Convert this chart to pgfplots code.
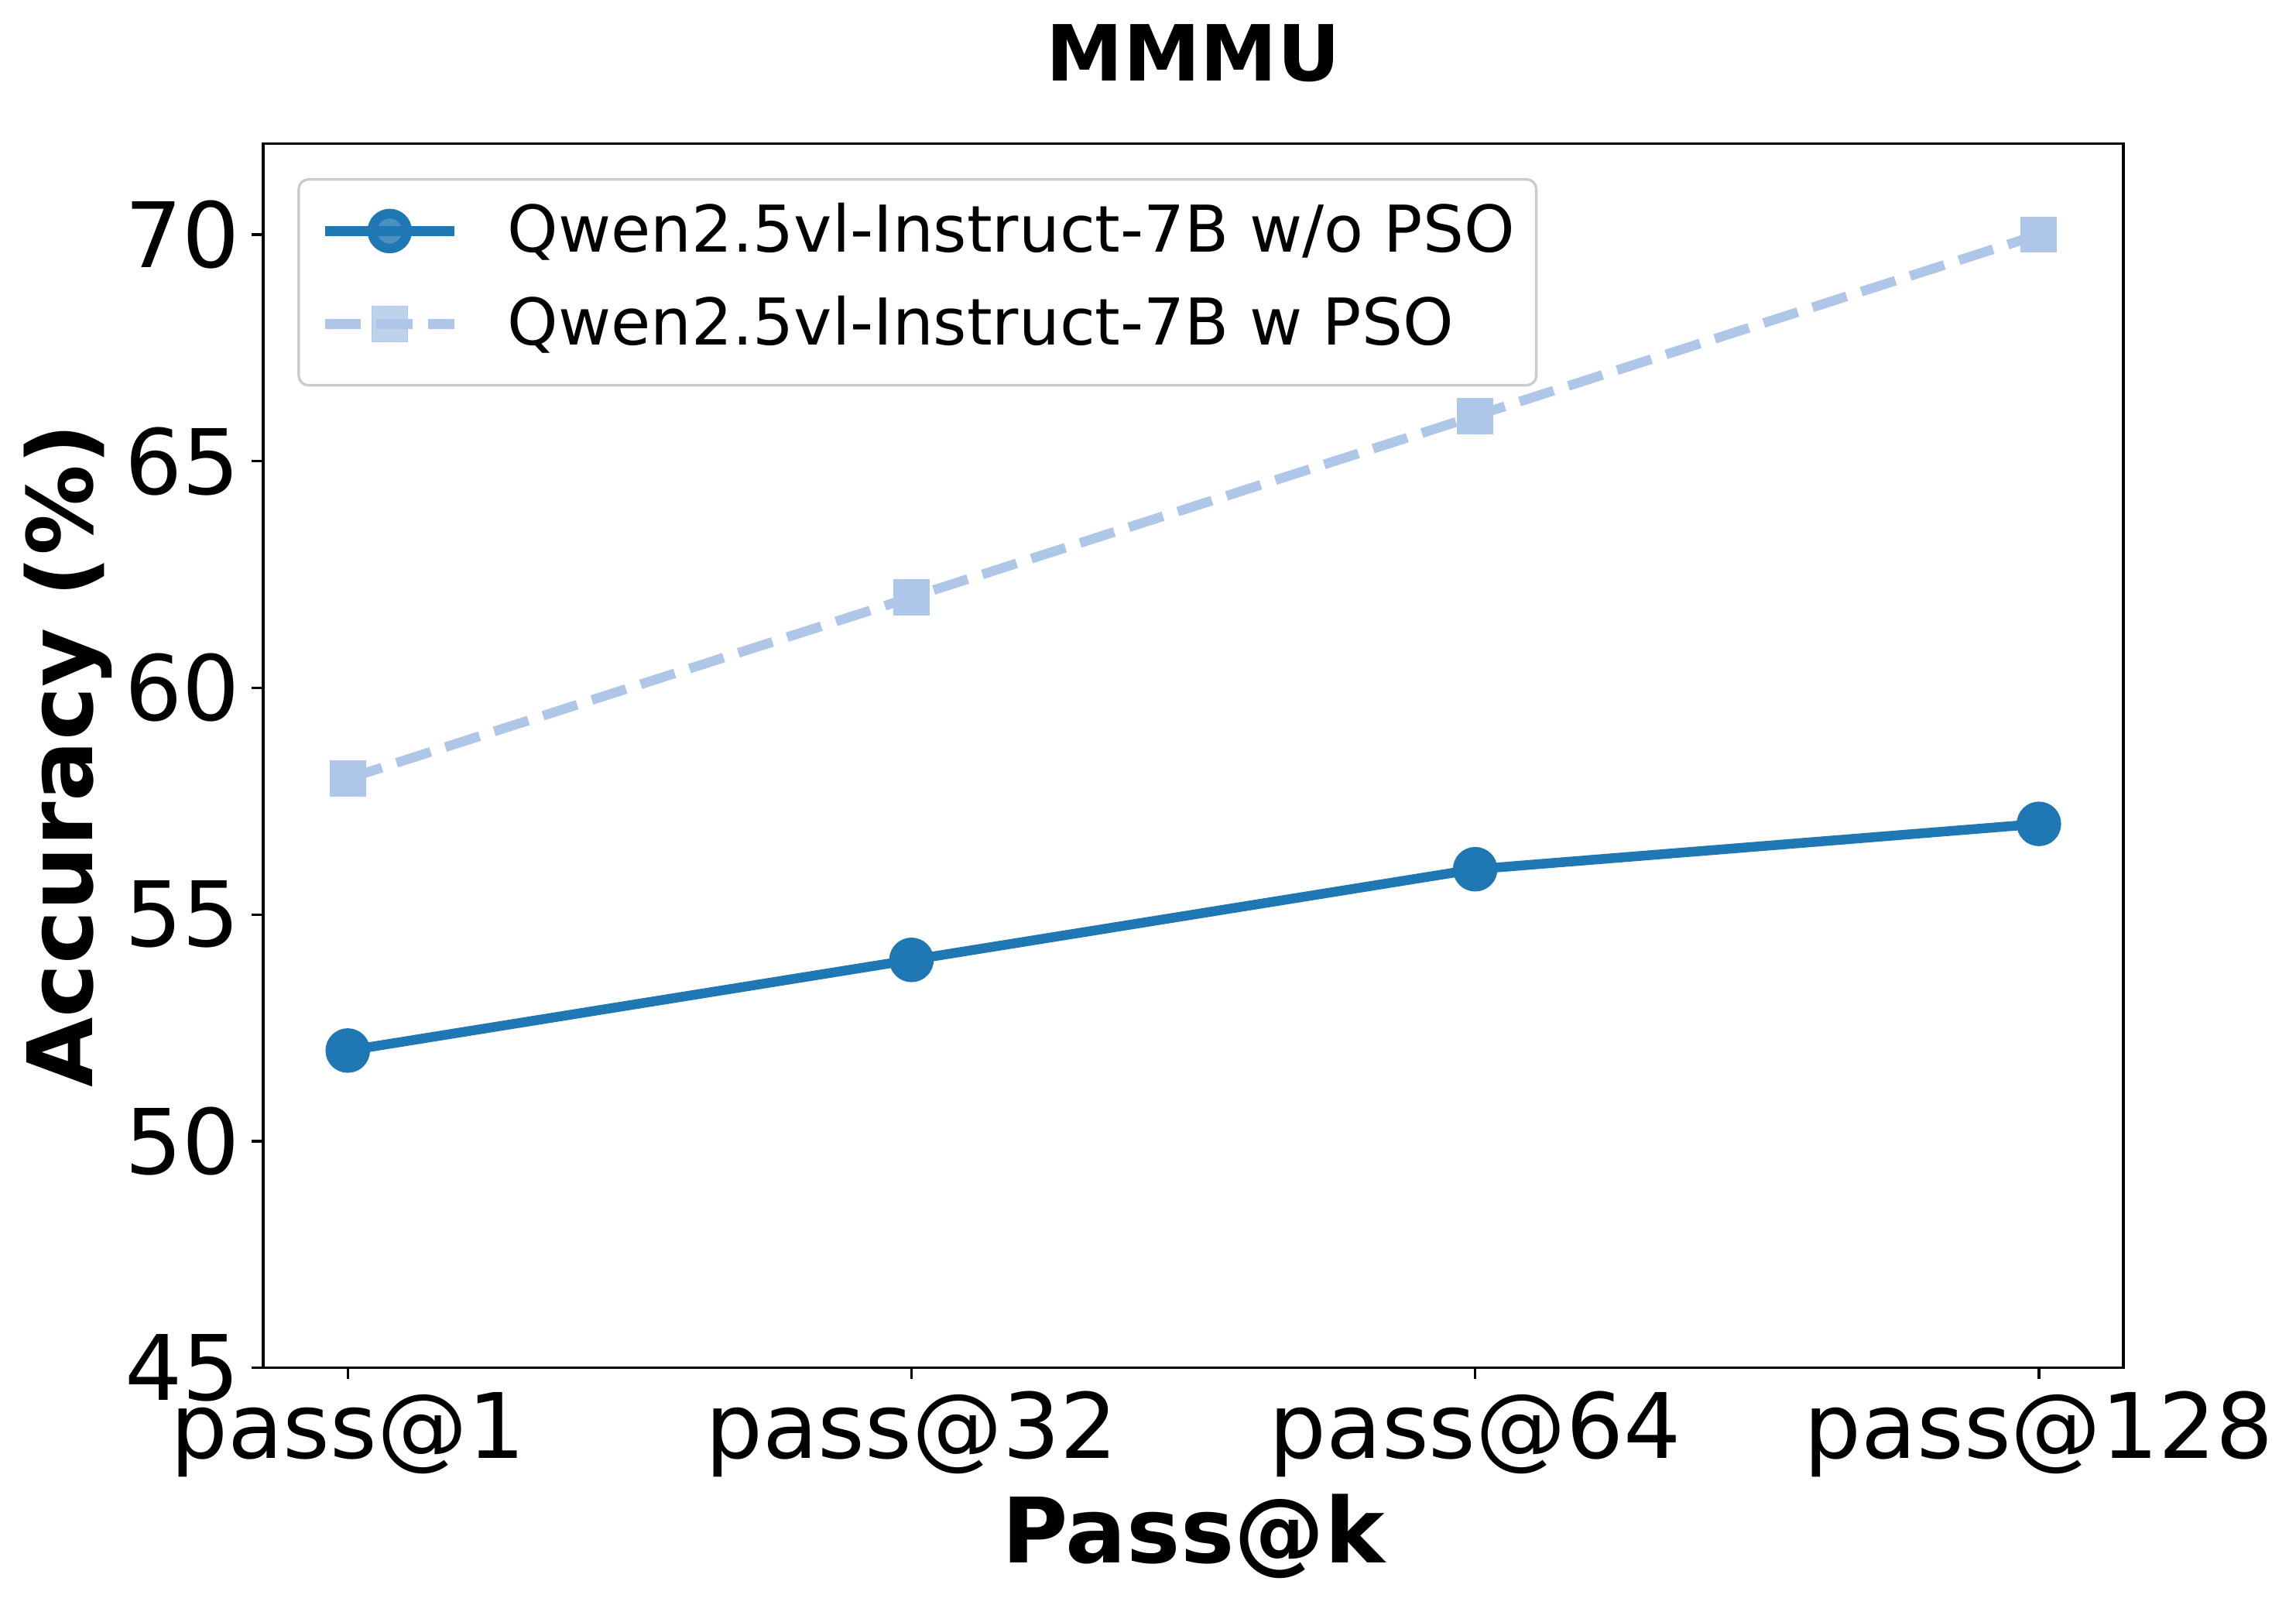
\documentclass[border=0pt]{standalone}
\usepackage{pgfplots}
\pgfplotsset{compat=1.18}
\usepackage{fontspec}
\setmainfont{DejaVu Sans}
\definecolor{cA}{HTML}{1F77B4}
\definecolor{cB}{HTML}{AEC7E8}
\begin{document}
\begin{tikzpicture}
\begin{axis}[
  name=ax,
  width=576.7pt, height=379.4pt, scale only axis,
  xmin=-0.15, xmax=3.15, ymin=45, ymax=72,
  xtick={0,1,2,3},
  xticklabels={pass@1,pass@32,pass@64,pass@128},
  ytick={45,50,...,70},
  xtick pos=bottom, ytick pos=left,
  tick align=outside, major tick length=3.5pt,
  tick style={black, line width=0.8pt},
  axis line style={line width=0.8pt},
  /pgf/number format/assume math mode=true,
  tick label style={font=\fontsize{28}{34}\selectfont},
  xticklabel style={inner sep=0pt, anchor=north, text height=20.4pt, text depth=6pt, yshift=-4pt},
  yticklabel style={inner sep=0pt, xshift=-3.5pt},
  title={\bfseries MMMU},
  title style={font=\fontsize{24}{29}\selectfont, at={(axis description cs:0.5,1)}, anchor=base, yshift=13.5pt},
  xlabel={\bfseries Pass@k},
  xlabel style={font=\fontsize{28}{34}\selectfont, at={(axis description cs:0.5,-0.159)}, anchor=base},
  ylabel={\bfseries Accuracy (\%)},
  ylabel style={font=\fontsize{28}{34}\selectfont, at={(axis description cs:-0.105,0.5)}, anchor=center},
  legend style={at={(axis description cs:0.0184,0.972)}, anchor=north west,
    draw=black!20, line width=0.8pt, rounded corners=3pt, fill=white, fill opacity=0.8, text opacity=1,
    font=\fontsize{20}{24}\selectfont, inner xsep=6.7pt, inner ysep=7.5pt,
    nodes={inner sep=0pt, text height=15pt, text depth=5pt},
    row sep=8.8pt, column sep=15pt},
  legend cell align=left,
  legend image code/.code={\draw[mark repeat=2,mark phase=2,#1] plot coordinates {(0pt,1.5pt) (20pt,1.5pt) (40pt,1.5pt)};},
]
\addplot[cA, line width=3pt, mark=*, mark size=5.4pt, mark options={solid, fill=cA}]
  coordinates {(0,52) (1,54) (2,56) (3,57)};
\addlegendentry{Qwen2.5vl-Instruct-7B w/o PSO}
\addplot[cB, line width=3pt, dash pattern=on 11.1pt off 4.8pt, mark=square*, mark size=5.5pt, mark options={solid, fill=cB, line width=0pt}]
  coordinates {(0,58) (1,62) (2,66) (3,70)};
\addlegendentry{Qwen2.5vl-Instruct-7B w PSO}
\end{axis}
\pgfresetboundingbox
\path ([xshift=-81.6pt,yshift=-73.4pt]ax.south west) rectangle ([xshift=53.5pt,yshift=44.6pt]ax.north east);
\end{tikzpicture}
\end{document}
